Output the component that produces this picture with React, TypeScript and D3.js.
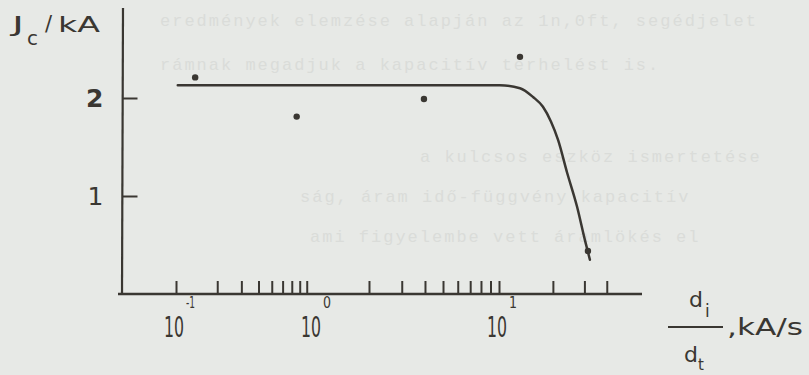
import * as d3 from 'd3'
import { useEffect, useRef } from 'react'

const width = 809, height = 375
const ink = '#3a3732'
const paper = '#e7e9e6'

// measured points (dI/dt in kA/s, Jc in kA)
const dotRate = [0.138, 0.76, 3.95, 13.1, 31.4]
const dotJc = [2.21, 1.81, 1.99, 2.42, 0.44]

// hand drawn fit curve
const curveRate = [0.103, 1, 10.1, 13.1, 15.5, 17.6, 19.5, 21.4, 24.0, 27.3, 30.2, 32.2]
const curveJc = [2.13, 2.13, 2.13, 2.10, 2.01, 1.91, 1.76, 1.57, 1.24, 0.89, 0.55, 0.35]

// log axis minor ticks (no tick drawn at 10^0)
const xTicks = [0.1, 0.2, 0.3, 0.4, 0.5, 0.6, 0.7, 0.8, 0.9, 2, 3, 4, 5, 6, 7, 8, 9, 10, 20, 30, 40]
const xLabels = [0.1, 1, 10]
const xExps = ['-1', '0', '1']
const yTicks = [1, 2]

// faint show-through from the reverse page
const ghostLines = [
  'eredmények elemzése alapján az 1n,0ft, segédjelet',
  'rámnak megadjuk a kapacitív terhelést is.',
  'a kulcsos eszköz ismertetése',
  'ság, áram idő-függvény kapacitív',
  'ami figyelembe vett áramlökés el'
]
const ghostX = [160, 160, 420, 300, 310]
const ghostY = [26, 70, 162, 202, 242]

const chart = (svgNode: SVGSVGElement) => {
  const svg = d3.select(svgNode)
  svg.selectAll('*').remove()

  // piecewise log scale: the hand-drawn decades are not equally wide
  const x = d3.scaleLog().domain([0.1, 1, 10, 100]).range([176, 313, 499, 678])
  const y = d3.scaleLinear().domain([0, 3]).range([294, 0])

  svg.append('rect').attr('width', width).attr('height', height).attr('fill', paper)

  svg.append('g')
    .attr('font-family', '"Liberation Mono", monospace')
    .attr('font-size', 17)
    .attr('fill', '#dadcd9')
    .selectAll('text')
    .data(ghostLines)
    .join('text')
    .attr('x', (d, i) => ghostX[i])
    .attr('y', (d, i) => ghostY[i])
    .attr('letter-spacing', 2)
    .text(d => d)

  const g = svg.append('g').attr('font-family', '"DejaVu Sans", sans-serif').attr('fill', ink)

  // y axis
  g.append('g')
    .attr('transform', `translate(122.5,0)`)
    .call(d3.axisLeft(y).tickValues(yTicks).tickSize(-15).tickPadding(19).tickFormat(d3.format('d')))
    .call(a => a.select('.domain').remove())
    .call(a => a.selectAll('line').attr('stroke', ink).attr('stroke-width', 2))
    .call(a => a.selectAll('text')
      .attr('fill', ink)
      .attr('font-family', '"DejaVu Sans", sans-serif')
      .attr('font-size', 25)
      .attr('font-weight', d => d === 2 ? 'bold' : 'normal'))
  g.append('line')
    .attr('x1', 123).attr('x2', 122)
    .attr('y1', 8).attr('y2', y(0))
    .attr('stroke', ink).attr('stroke-width', 2.2)

  // x axis
  g.append('g')
    .attr('transform', `translate(0,${y(0)})`)
    .call(d3.axisBottom(x).tickValues(xTicks).tickSize(-13).tickFormat(() => ''))
    .call(a => a.select('.domain').remove())
    .call(a => a.selectAll('line').attr('stroke', ink).attr('stroke-width', 2))
  g.append('line')
    .attr('x1', 118).attr('x2', 642)
    .attr('y1', y(0)).attr('y2', y(0))
    .attr('stroke', ink).attr('stroke-width', 2.4)

  const lab = g.append('g').selectAll('g').data(xLabels).join('g')
    .attr('transform', d => `translate(${x(d) - 12},337)`)
  lab.append('text')
    .attr('font-size', 28)
    .attr('textLength', 20)
    .attr('lengthAdjust', 'spacingAndGlyphs')
    .text('10')
  lab.append('text')
    .attr('x', 22).attr('y', -29)
    .attr('font-size', 16)
    .attr('textLength', (d, i) => xExps[i].length > 1 ? 9 : 8)
    .attr('lengthAdjust', 'spacingAndGlyphs')
    .text((d, i) => xExps[i])

  // fit curve
  const line = d3.line<number>()
    .x(i => x(curveRate[i]))
    .y(i => y(curveJc[i]))
    .curve(d3.curveMonotoneX)
  g.append('path')
    .attr('d', line(d3.range(curveRate.length)))
    .attr('fill', 'none')
    .attr('stroke', ink)
    .attr('stroke-width', 2.5)
    .attr('stroke-linecap', 'round')

  // data points
  g.append('g').selectAll('circle')
    .data(d3.range(dotRate.length))
    .join('circle')
    .attr('cx', i => x(dotRate[i]))
    .attr('cy', i => y(dotJc[i]))
    .attr('r', 3.2)
    .attr('fill', ink)

  // y title  Jc / kA
  const yt = g.append('g').attr('font-size', 21)
  yt.append('text').attr('x', 12).attr('y', 32).attr('textLength', 12).attr('lengthAdjust', 'spacingAndGlyphs').text('J')
  yt.append('text').attr('x', 27).attr('y', 45).attr('font-size', 20).attr('textLength', 11).attr('lengthAdjust', 'spacingAndGlyphs').text('c')
  yt.append('text').attr('x', 45).attr('y', 31).text('/')
  yt.append('text').attr('x', 58).attr('y', 32).attr('textLength', 42).attr('lengthAdjust', 'spacingAndGlyphs').text('kA')

  // x title  di/dt , kA/s
  const xt = g.append('g').attr('font-size', 22)
  xt.append('text').attr('x', 689).attr('y', 307).text('d')
  xt.append('text').attr('x', 705).attr('y', 317).attr('font-size', 17).text('i')
  xt.append('line')
    .attr('x1', 668).attr('x2', 723).attr('y1', 327).attr('y2', 327)
    .attr('stroke', ink).attr('stroke-width', 1.8)
  xt.append('text').attr('x', 684).attr('y', 362).text('d')
  xt.append('text').attr('x', 698).attr('y', 370).attr('font-size', 15).text('t')
  xt.append('text').attr('x', 727).attr('y', 335).attr('font-size', 23)
    .attr('textLength', 76).attr('lengthAdjust', 'spacingAndGlyphs').text(',kA/s')
}

export default function App() {
  const ref = useRef<SVGSVGElement>(null)
  useEffect(() => {
    if (ref.current) chart(ref.current)
  }, [])
  return (
    <svg
      ref={ref}
      width={width}
      height={height}
      style={{ position: 'fixed', left: 0, top: 0, display: 'block' }}
    />
  )
}
